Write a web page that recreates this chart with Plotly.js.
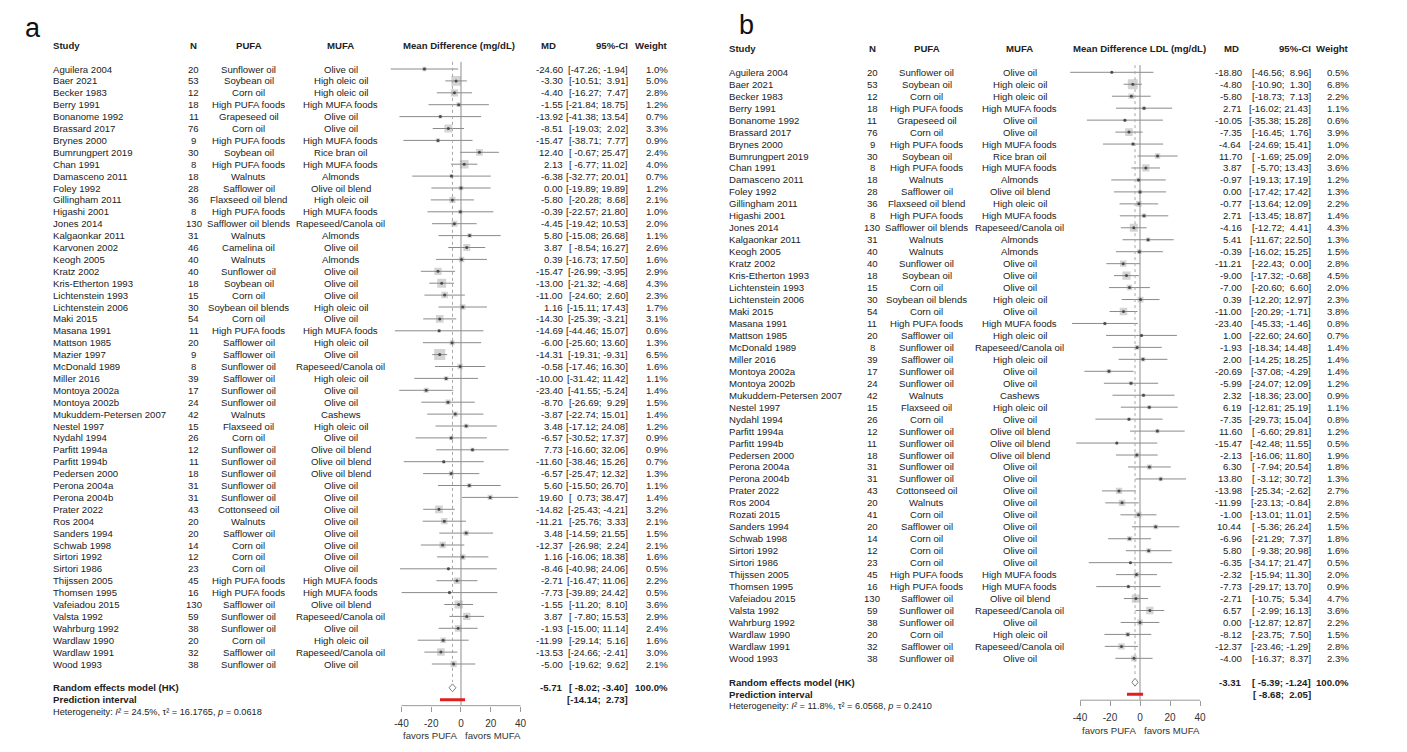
<!DOCTYPE html>
<html><head><meta charset="utf-8">
<script src="https://cdn.plot.ly/plotly-3.0.1.min.js"></script>
<style>html,body{margin:0;padding:0;background:#fff}#chart{width:1407px;height:752px}</style>
</head><body><div id="chart"></div>
<script>
// ---------------- DATA: panel a (total cholesterol) ----------------
const studiesA = ["Aguilera 2004","Baer 2021","Becker 1983","Berry 1991","Bonanome 1992","Brassard 2017","Brynes 2000","Bumrungpert 2019","Chan 1991","Damasceno 2011","Foley 1992","Gillingham 2011","Higashi 2001","Jones 2014","Kalgaonkar 2011","Karvonen 2002","Keogh 2005","Kratz 2002","Kris-Etherton 1993","Lichtenstein 1993","Lichtenstein 2006","Maki 2015","Masana 1991","Mattson 1985","Mazier 1997","McDonald 1989","Miller 2016","Montoya 2002a","Montoya 2002b","Mukuddem-Petersen 2007","Nestel 1997","Nydahl 1994","Parfitt 1994a","Parfitt 1994b","Pedersen 2000","Perona 2004a","Perona 2004b","Prater 2022","Ros 2004","Sanders 1994","Schwab 1998","Sirtori 1992","Sirtori 1986","Thijssen 2005","Thomsen 1995","Vafeiadou 2015","Valsta 1992","Wahrburg 1992","Wardlaw 1990","Wardlaw 1991","Wood 1993"];
const nA = [20,53,12,18,11,76,9,30,8,18,28,36,8,130,31,46,40,40,18,15,30,54,11,20,9,8,39,17,24,42,15,26,12,11,18,31,31,43,20,20,14,12,23,45,16,130,59,38,20,32,38];
const pufaA = ["Sunflower oil","Soybean oil","Corn oil","High PUFA foods","Grapeseed oil","Corn oil","High PUFA foods","Soybean oil","High PUFA foods","Walnuts","Safflower oil","Flaxseed oil blend","High PUFA foods","Safflower oil blends","Walnuts","Camelina oil","Walnuts","Sunflower oil","Soybean oil","Corn oil","Soybean oil blends","Corn oil","High PUFA foods","Safflower oil","Safflower oil","Sunflower oil","Safflower oil","Sunflower oil","Sunflower oil","Walnuts","Flaxseed oil","Corn oil","Sunflower oil","Sunflower oil","Sunflower oil","Sunflower oil","Sunflower oil","Cottonseed oil","Walnuts","Safflower oil","Corn oil","Corn oil","Corn oil","High PUFA foods","High PUFA foods","Safflower oil","Sunflower oil","Sunflower oil","Corn oil","Safflower oil","Sunflower oil"];
const mufaA = ["Olive oil","High oleic oil","High oleic oil","High MUFA foods","Olive oil","Olive oil","High MUFA foods","Rice bran oil","High MUFA foods","Almonds","Olive oil blend","High oleic oil","High MUFA foods","Rapeseed/Canola oil","Almonds","Olive oil","Almonds","Olive oil","Olive oil","Olive oil","High oleic oil","Olive oil","High MUFA foods","High oleic oil","Olive oil","Rapeseed/Canola oil","High oleic oil","Olive oil","Olive oil","Cashews","High oleic oil","Olive oil","Olive oil blend","Olive oil blend","Olive oil blend","Olive oil","Olive oil","Olive oil","Olive oil","Olive oil","Olive oil","Olive oil","Olive oil","High MUFA foods","High MUFA foods","Olive oil blend","Rapeseed/Canola oil","Olive oil","High oleic oil","Rapeseed/Canola oil","Olive oil"];
const mdA = [-24.60,-3.30,-4.40,-1.55,-13.92,-8.51,-15.47,12.40,2.13,-6.38,0.00,-5.80,-0.39,-4.45,5.80,3.87,0.39,-15.47,-13.00,-11.00,1.16,-14.30,-14.69,-6.00,-14.31,-0.58,-10.00,-23.40,-8.70,-3.87,3.48,-6.57,7.73,-11.60,-6.57,5.60,19.60,-14.82,-11.21,3.48,-12.37,1.16,-8.46,-2.71,-7.73,-1.55,3.87,-1.93,-11.99,-13.53,-5.00];
const loA = [-47.26,-10.51,-16.27,-21.84,-41.38,-19.03,-38.71,-0.67,-6.77,-32.77,-19.89,-20.28,-22.57,-19.42,-15.08,-8.54,-16.73,-26.99,-21.32,-24.60,-15.11,-25.39,-44.46,-25.60,-19.31,-17.46,-31.42,-41.55,-26.69,-22.74,-17.12,-30.52,-16.60,-38.46,-25.47,-15.50,0.73,-25.43,-25.76,-14.59,-26.98,-16.06,-40.98,-16.47,-39.89,-11.20,-7.80,-15.00,-29.14,-24.66,-19.62];
const hiA = [-1.94,3.91,7.47,18.75,13.54,2.02,7.77,25.47,11.02,20.01,19.89,8.68,21.80,10.53,26.68,16.27,17.50,-3.95,-4.68,2.60,17.43,-3.21,15.07,13.60,-9.31,16.30,11.42,-5.24,9.29,15.01,24.08,17.37,32.06,15.26,12.32,26.70,38.47,-4.21,3.33,21.55,2.24,18.38,24.06,11.06,24.42,8.10,15.53,11.14,5.16,-2.41,9.62];
const wA = [1.0,5.0,2.8,1.2,0.7,3.3,0.9,2.4,4.0,0.7,1.2,2.1,1.0,2.0,1.1,2.6,1.6,2.9,4.3,2.3,1.7,3.1,0.6,1.3,6.5,1.6,1.1,1.4,1.5,1.4,1.2,0.9,0.9,0.7,1.3,1.1,1.4,3.2,2.1,1.5,2.1,1.6,0.5,2.2,0.5,3.6,2.9,2.4,1.6,3.0,2.1];
const randomA = [-5.71,-8.02,-3.40];   // MD, lower, upper
const predA = [-14.14,2.73];
const hetA = ["24.5%","16.1765","0.0618"];

// ---------------- DATA: panel b (LDL) ----------------
const studiesB = ["Aguilera 2004","Baer 2021","Becker 1983","Berry 1991","Bonanome 1992","Brassard 2017","Brynes 2000","Bumrungpert 2019","Chan 1991","Damasceno 2011","Foley 1992","Gillingham 2011","Higashi 2001","Jones 2014","Kalgaonkar 2011","Keogh 2005","Kratz 2002","Kris-Etherton 1993","Lichtenstein 1993","Lichtenstein 2006","Maki 2015","Masana 1991","Mattson 1985","McDonald 1989","Miller 2016","Montoya 2002a","Montoya 2002b","Mukuddem-Petersen 2007","Nestel 1997","Nydahl 1994","Parfitt 1994a","Parfitt 1994b","Pedersen 2000","Perona 2004a","Perona 2004b","Prater 2022","Ros 2004","Rozati 2015","Sanders 1994","Schwab 1998","Sirtori 1992","Sirtori 1986","Thijssen 2005","Thomsen 1995","Vafeiadou 2015","Valsta 1992","Wahrburg 1992","Wardlaw 1990","Wardlaw 1991","Wood 1993"];
const nB = [20,53,12,18,11,76,9,30,8,18,28,36,8,130,31,40,40,18,15,30,54,11,20,8,39,17,24,42,15,26,12,11,18,31,31,43,20,41,20,14,12,23,45,16,130,59,38,20,32,38];
const pufaB = ["Sunflower oil","Soybean oil","Corn oil","High PUFA foods","Grapeseed oil","Corn oil","High PUFA foods","Soybean oil","High PUFA foods","Walnuts","Safflower oil","Flaxseed oil blend","High PUFA foods","Safflower oil blends","Walnuts","Walnuts","Sunflower oil","Soybean oil","Corn oil","Soybean oil blends","Corn oil","High PUFA foods","Safflower oil","Sunflower oil","Safflower oil","Sunflower oil","Sunflower oil","Walnuts","Flaxseed oil","Corn oil","Sunflower oil","Sunflower oil","Sunflower oil","Sunflower oil","Sunflower oil","Cottonseed oil","Walnuts","Corn oil","Safflower oil","Corn oil","Corn oil","Corn oil","High PUFA foods","High PUFA foods","Safflower oil","Sunflower oil","Sunflower oil","Corn oil","Safflower oil","Sunflower oil"];
const mufaB = ["Olive oil","High oleic oil","High oleic oil","High MUFA foods","Olive oil","Olive oil","High MUFA foods","Rice bran oil","High MUFA foods","Almonds","Olive oil blend","High oleic oil","High MUFA foods","Rapeseed/Canola oil","Almonds","Almonds","Olive oil","Olive oil","Olive oil","High oleic oil","Olive oil","High MUFA foods","High oleic oil","Rapeseed/Canola oil","High oleic oil","Olive oil","Olive oil","Cashews","High oleic oil","Olive oil","Olive oil blend","Olive oil blend","Olive oil blend","Olive oil","Olive oil","Olive oil","Olive oil","Olive oil","Olive oil","Olive oil","Olive oil","Olive oil","High MUFA foods","High MUFA foods","Olive oil blend","Rapeseed/Canola oil","Olive oil","High oleic oil","Rapeseed/Canola oil","Olive oil"];
const mdB = [-18.80,-4.80,-5.80,2.71,-10.05,-7.35,-4.64,11.70,3.87,-0.97,0.00,-0.77,2.71,-4.16,5.41,-0.39,-11.21,-9.00,-7.00,0.39,-11.00,-23.40,1.00,-1.93,2.00,-20.69,-5.99,2.32,6.19,-7.35,11.60,-15.47,-2.13,6.30,13.80,-13.98,-11.99,-1.00,10.44,-6.96,5.80,-6.35,-2.32,-7.73,-2.71,6.57,0.00,-8.12,-12.37,-4.00];
const loB = [-46.56,-10.90,-18.73,-16.02,-35.38,-16.45,-24.69,-1.69,-5.70,-19.13,-17.42,-13.64,-13.45,-12.72,-11.67,-16.02,-22.43,-17.32,-20.60,-12.20,-20.29,-45.33,-22.60,-18.34,-14.25,-37.08,-24.07,-18.36,-12.81,-29.73,-6.60,-42.48,-16.06,-7.94,-3.12,-25.34,-23.13,-13.01,-5.36,-21.29,-9.38,-34.17,-15.94,-29.17,-10.75,-2.99,-12.87,-23.75,-23.46,-16.37];
const hiB = [8.96,1.30,7.13,21.43,15.28,1.76,15.41,25.09,13.43,17.19,17.42,12.09,18.87,4.41,22.50,15.25,0.00,-0.68,6.60,12.97,-1.71,-1.46,24.60,14.48,18.25,-4.29,12.09,23.00,25.19,15.04,29.81,11.55,11.80,20.54,30.72,-2.62,-0.84,11.01,26.24,7.37,20.98,21.47,11.30,13.70,5.34,16.13,12.87,7.50,-1.29,8.37];
const wB = [0.5,6.8,2.2,1.1,0.6,3.9,1.0,2.0,3.6,1.2,1.3,2.2,1.4,4.3,1.3,1.5,2.8,4.5,2.0,2.3,3.8,0.8,0.7,1.4,1.4,1.4,1.2,0.9,1.1,0.8,1.2,0.5,1.9,1.8,1.3,2.7,2.8,2.5,1.5,1.8,1.6,0.5,2.0,0.9,4.7,3.6,2.2,1.5,2.8,2.3];
const randomB = [-3.31,-5.39,-1.24];
const predB = [-8.68,2.05];
const hetB = ["11.8%","6.0568","0.2410"];

// shared labels
const headers = ["Study","N","PUFA","MUFA","MD","95%-CI","Weight"];
const axisTicks = [-40,-20,0,20,40];
const favorLabels = ["favors PUFA","favors MUFA"];
const reLabel = "Random effects model (HK)";
const piLabel = "Prediction interval";

// ---------------- LAYOUT / GEOMETRY ----------------
const W = 1407, H = 752;
const FONT = "Liberation Sans, Arial, Helvetica, sans-serif";
const TXT = "#222";
const FS = 9.6;

const geomA = {letter:"a", letterX:32.5, letterY:27.5, row1:69, rowH:11.9, xStudy:52.7, xN:193.7, xPufa:248.5, xMufa:340.5,
  zero:461, ppu:1.4875, xMDhead:548.7, xMD:562.7, xCI:628.3, xW:668.3, favY:735, sqMax:11,
  title:"Mean Difference (mg/dL)", titleX:459};
const geomB = {letter:"b", letterX:746, letterY:25, row1:72.3, rowH:11.96, xStudy:729.3, xN:872, xPufa:927, xMufa:1019.5,
  zero:1140, ppu:1.5, xMDhead:1231.7, xMD:1242.3, xCI:1311, xW:1348.5, favY:730.7, sqMax:10,
  title:"Mean Difference LDL (mg/dL)", titleX:1139.7};

const traces = [];
const annotations = [];
const layout = {width:W, height:H, margin:{l:0,r:0,t:0,b:0}, paper_bgcolor:"#fff", plot_bgcolor:"rgba(0,0,0,0)",
  showlegend:false, font:{family:FONT, size:FS, color:TXT}, annotations:annotations};

function buildPanel(d, g, xa, ya) {
  const n = d.study.length;
  const xKey = xa === "x" ? "xaxis" : "xaxis" + xa.slice(1);
  const yKey = ya === "y" ? "yaxis" : "yaxis" + ya.slice(1);
  const top = 1 - g.row1 / g.rowH;
  const bot = 1 + (H - g.row1) / g.rowH;
  const rowOfPx = px => 1 + (px - g.row1) / g.rowH;
  const rows = d.study.map((s, i) => i + 1);
  const reRow = n + 2, piRow = n + 3, hetRow = n + 4, axisRow = n + 3.5, headRow = -1;
  const lineTop = 0.4;

  layout[yKey] = {domain:[0,1], range:[bot, top], visible:false, fixedrange:true, anchor:xa};
  layout[xKey] = {domain:[(g.zero - 55*g.ppu)/W, (g.zero + 55*g.ppu)/W], range:[-55,55], anchor:"free",
    position: 1 - (axisRow - top) / (bot - top), showline:false, showgrid:false, zeroline:false,
    ticks:"outside", ticklen:5, tickwidth:1, tickcolor:"#9a9a9a", tickmode:"array",
    tickvals:axisTicks, ticktext:axisTicks.map(String), ticklabelstandoff:3,
    tickfont:{family:FONT, size:10, color:"#333"}, fixedrange:true};

  const base = {xaxis:xa, yaxis:ya, hoverinfo:"skip", showlegend:false};
  const maxW = Math.max(...d.w);
  // squares
  traces.push(Object.assign({type:"scatter", mode:"markers", x:d.md, y:rows,
    marker:{symbol:"square", color:"#c2c2c2", size:d.w.map(w => Math.max(2, g.sqMax*Math.sqrt(w/maxW))), line:{width:0}}}, base));
  // CI lines
  const cx = [], cy = [];
  d.lo.forEach((l, i) => { cx.push(l, d.hi[i], null); cy.push(rows[i], rows[i], null); });
  traces.push(Object.assign({type:"scatter", mode:"lines", x:cx, y:cy, line:{color:"#8a8a8a", width:1}}, base));
  // zero line
  traces.push(Object.assign({type:"scatter", mode:"lines", x:[0,0], y:[lineTop, axisRow], line:{color:"#8f8f8f", width:1}}, base));
  // random effects dotted line
  traces.push(Object.assign({type:"scatter", mode:"lines", x:[d.re[0], d.re[0]], y:[lineTop, reRow - 0.5], line:{color:"#a8a8a8", width:1, dash:"dot"}}, base));
  // point estimates
  traces.push(Object.assign({type:"scatter", mode:"markers", x:d.md, y:rows, marker:{symbol:"circle", color:"#4a4a4a", size:3, line:{width:0}}}, base));
  // diamond
  traces.push(Object.assign({type:"scatter", mode:"lines", x:[d.re[1], d.re[0], d.re[2], d.re[0], d.re[1]],
    y:[reRow, reRow - 0.33, reRow, reRow + 0.33, reRow], line:{color:"#808080", width:1}}, base));
  // prediction interval
  traces.push(Object.assign({type:"scatter", mode:"lines", x:[d.pi[0], d.pi[1]], y:[piRow, piRow], line:{color:"#e01f1f", width:3}}, base));
  // axis line
  traces.push(Object.assign({type:"scatter", mode:"lines", x:[Math.min(...axisTicks), Math.max(...axisTicks)], y:[axisRow, axisRow], line:{color:"#9a9a9a", width:1}}, base));

  function A(text, xpx, row, anchor, bold, size) {
    annotations.push({text: bold ? "<b>" + text + "</b>" : text, x: xpx / W, xref:"paper", y: row, yref: ya,
      xanchor: anchor, yanchor:"middle", showarrow:false, borderpad:0, borderwidth:0,
      font:{family:FONT, size: size || FS, color:TXT}});
  }
  // panel letter
  annotations.push({text:g.letter, x:g.letterX / W, xref:"paper", y:1 - g.letterY / H, yref:"paper", xanchor:"center", yanchor:"middle",
    showarrow:false, borderpad:0, borderwidth:0, font:{family:FONT, size:27, color:"#111"}});
  // headers
  A(headers[0], g.xStudy, headRow, "left", true);
  A(headers[1], g.xN, headRow, "center", true);
  A(headers[2], g.xPufa, headRow, "center", true);
  A(headers[3], g.xMufa, headRow, "center", true);
  A(g.title, g.titleX, headRow, "center", true);
  A(headers[4], g.xMDhead, headRow, "center", true);
  A(headers[5], g.xCI, headRow, "right", true);
  A(headers[6], g.xW, headRow, "right", true);

  const NB = "\u00A0";
  const loW = Math.max(...d.lo.concat([d.re[1], d.pi[0]]).map(v => v.toFixed(2).length));
  const hiW = Math.max(...d.hi.concat([d.re[2], d.pi[1]]).map(v => v.toFixed(2).length));
  const ci = (l, h) => "[" + l.toFixed(2).padStart(loW, NB) + ";" + NB + h.toFixed(2).padStart(hiW, NB) + "]";

  d.study.forEach((s, i) => {
    const r = rows[i];
    A(s, g.xStudy, r, "left");
    A(String(d.n[i]), g.xN, r, "center");
    A(d.pufa[i], g.xPufa, r, "center");
    A(d.mufa[i], g.xMufa, r, "center");
    A(d.md[i].toFixed(2), g.xMD, r, "right");
    A(ci(d.lo[i], d.hi[i]), g.xCI, r, "right");
    A(d.w[i].toFixed(1) + "%", g.xW, r, "right");
  });
  A(reLabel, g.xStudy, reRow, "left", true);
  A(piLabel, g.xStudy, piRow, "left", true);
  A("Heterogeneity: <i>I\u00B2</i> = " + d.het[0] + ", \u03c4\u00B2 = " + d.het[1] + ", <i>p</i> = " + d.het[2], g.xStudy, hetRow, "left", false, 9.2);
  A(d.re[0].toFixed(2), g.xMD, reRow, "right", true);
  A(ci(d.re[1], d.re[2]), g.xCI, reRow, "right", true);
  A("100.0%", g.xW, reRow, "right", true);
  A(ci(d.pi[0], d.pi[1]), g.xCI, piRow, "right", true);
  // favours labels
  const fr = rowOfPx(g.favY);
  annotations.push({text:favorLabels[0], x:-2.5, xref:xa, y:fr, yref:ya, xanchor:"right", yanchor:"middle", showarrow:false, borderpad:0, borderwidth:0, font:{family:FONT, size:FS, color:"#333"}});
  annotations.push({text:favorLabels[1], x:2.5, xref:xa, y:fr, yref:ya, xanchor:"left", yanchor:"middle", showarrow:false, borderpad:0, borderwidth:0, font:{family:FONT, size:FS, color:"#333"}});
}

buildPanel({study:studiesA, n:nA, pufa:pufaA, mufa:mufaA, md:mdA, lo:loA, hi:hiA, w:wA, re:randomA, pi:predA, het:hetA}, geomA, "x", "y");
buildPanel({study:studiesB, n:nB, pufa:pufaB, mufa:mufaB, md:mdB, lo:loB, hi:hiB, w:wB, re:randomB, pi:predB, het:hetB}, geomB, "x2", "y2");

Plotly.newPlot("chart", traces, layout, {staticPlot:true, displayModeBar:false});
</script>
</body></html>
